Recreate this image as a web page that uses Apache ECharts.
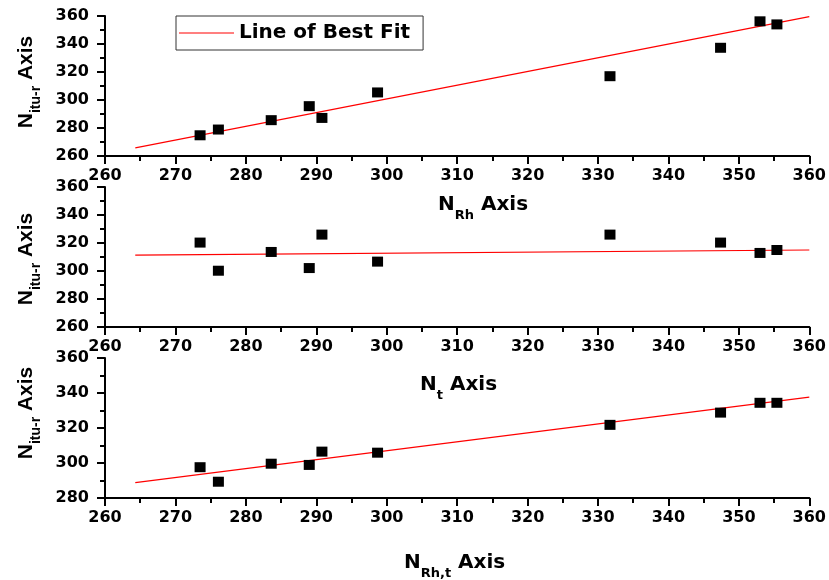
<!DOCTYPE html>
<html>
<head>
<meta charset="utf-8">
<script src="https://cdn.jsdelivr.net/npm/echarts@6/dist/echarts.min.js"></script>
<style>html,body{margin:0;padding:0;background:#fff}#c{width:829px;height:580px}</style>
</head>
<body>
<div id="c"></div>
<script>
// ---- data ----
const xValues   = [273.5, 276.1, 283.6, 289.0, 290.8, 298.7, 331.7, 347.4, 353.0, 355.4];
const nituVsRh  = [274.8, 278.9, 285.6, 295.6, 287.2, 305.4, 317.0, 337.3, 356.2, 354.0];
const nituVsT   = [320.3, 300.2, 313.6, 302.1, 326.0, 306.7, 326.0, 320.3, 312.9, 315.0];
const nituVsRht = [297.6, 289.3, 299.6, 298.9, 306.5, 305.9, 321.8, 328.8, 334.4, 334.4];
const fitX      = [264.3, 360];
const fitRh     = [265.8, 359.6];
const fitT      = [311.4, 315.0];
const fitRht    = [288.8, 337.6];
const xTicks    = {min: 260, max: 360, step: 10};
const yTicksTop = {min: 260, max: 360, step: 20};
const yTicksBot = {min: 280, max: 360, step: 20};
const fitName   = 'Line of Best Fit';

const pairs = (xs, ys) => xs.map((x, i) => [x, ys[i]]);

const FONT = 'DejaVu Sans';
const axisCommon = {
  axisLine: {show: true, onZero: false, lineStyle: {color: '#000', width: 2}},
  axisTick: {show: true, inside: false, length: 8, lineStyle: {color: '#000', width: 2}},
  minorTick: {show: true, splitNumber: 2, length: 5, lineStyle: {color: '#000', width: 2}},
  splitLine: {show: false},
  axisLabel: {color: '#000', fontFamily: FONT, fontWeight: 'bold', fontSize: 16}
};
function xAx(i) {
  return Object.assign({}, axisCommon, {
    type: 'value', gridIndex: i, min: xTicks.min, max: xTicks.max, interval: xTicks.step,
    axisLabel: Object.assign({}, axisCommon.axisLabel, {margin: 12})
  });
}
function yAx(i, t) {
  return Object.assign({}, axisCommon, {
    type: 'value', gridIndex: i, min: t.min, max: t.max, interval: t.step,
    axisLabel: Object.assign({}, axisCommon.axisLabel, {margin: 16})
  });
}
const scatter = (i, ys) => ({
  type: 'scatter', xAxisIndex: i, yAxisIndex: i, data: pairs(xValues, ys),
  symbol: 'rect', symbolSize: [11, 10], itemStyle: {color: '#000', opacity: 1}, silent: true, z: 3
});
const fit = (i, ys) => ({
  type: 'line', name: fitName, xAxisIndex: i, yAxisIndex: i, data: pairs(fitX, ys),
  symbol: 'none', showSymbol: false, lineStyle: {color: '#ff0000', width: 1.2},
  itemStyle: {color: '#ff0000'}, silent: true, z: 2
});

const rich = {
  n: {fontFamily: FONT, fontWeight: 'bold', fontSize: 20, lineHeight: 34, fill: '#000'},
  s: {fontFamily: FONT, fontWeight: 'bold', fontSize: 13, lineHeight: 13, verticalAlign: 'bottom', fill: '#000'}
};
const richY = {
  n: {fontFamily: 'Liberation Sans', fontWeight: 'bold', fontSize: 21, lineHeight: 34, fill: '#000'},
  s: {fontFamily: 'Liberation Sans', fontWeight: 'bold', fontSize: 14, lineHeight: 14, verticalAlign: 'bottom', fill: '#000'}
};
const xTitle = (sub, left, top) => ({
  type: 'text', left: left, top: top,
  style: {text: '{n|N}{s|' + sub + '}{n| Axis}', rich: rich}
});
const yTitle = (cx, cy) => ({
  type: 'text', x: cx, y: cy, rotation: Math.PI / 2,
  style: {text: '{n|N}{s|itu-r}{n| Axis}', rich: richY, align: 'center', verticalAlign: 'middle'}
});

const chart = echarts.init(document.getElementById('c'), null, {renderer: 'canvas'});
chart.setOption({
  animation: false,
  backgroundColor: '#fff',
  grid: [
    {left: 105, right: 18, top: 16, height: 140},
    {left: 105, right: 18, top: 187, height: 140},
    {left: 105, right: 18, top: 358, height: 140}
  ],
  xAxis: [xAx(0), xAx(1), xAx(2)],
  yAxis: [yAx(0, yTicksTop), yAx(1, yTicksTop), yAx(2, yTicksBot)],
  legend: {
    data: [{name: fitName, icon: 'rect', itemStyle: {color: '#ff0000'}}],
    left: 176, top: 16, orient: 'horizontal',
    padding: [5, 13, 5, 3], itemWidth: 55, itemHeight: 1.2,
    borderColor: '#333', borderWidth: 1,
    textStyle: {color: '#000', fontFamily: FONT, fontWeight: 'bold', fontSize: 20, lineHeight: 24}
  },
  series: [
    fit(0, fitRh), scatter(0, nituVsRh),
    fit(1, fitT), scatter(1, nituVsT),
    fit(2, fitRht), scatter(2, nituVsRht)
  ],
  graphic: [
    xTitle('Rh', 438, 195),
    xTitle('t', 420, 375),
    xTitle('Rh,t', 404, 553),
    yTitle(26, 82),
    yTitle(26, 259),
    yTitle(26, 413)
  ]
});
</script>
</body>
</html>
